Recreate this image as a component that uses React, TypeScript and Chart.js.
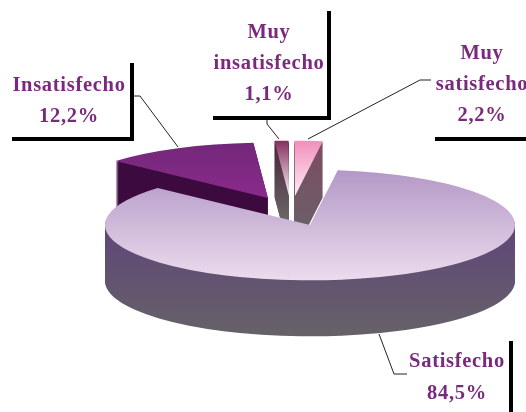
import React, { useEffect, useRef } from "react";
import { Chart, registerables } from "chart.js";

Chart.register(...registerables);

const categories = ["Insatisfecho", "Muy insatisfecho", "Muy satisfecho", "Satisfecho"];
const values = [12.2, 1.1, 2.2, 84.5];
const percentLabels = ["12,2%", "1,1%", "2,2%", "84,5%"];

// Style: explosion of each slice on screen, and gradients
const shiftX = [-42, -21, -15, 0];
const shiftY = [-27, -29, -29, 0];
const topRange = [[143, 197], [141, 195], [141, 195], [170, 281]];
const topColors = [
  ["#72287a", "#8a2a8a"],
  ["#85305f", "#f6f0f4"],
  ["#f28fbc", "#fdecf5"],
  ["#b398c6", "#ecdcee"],
];
const wallRange = [[160, 240], [141, 225], [141, 225], [225, 337]];
const wallColors = [
  ["#3d0a40", "#3b0a3c"],
  ["#4a2038", "#6c6c6a"],
  ["#7e4c62", "#6c5e68"],
  ["#5f4679", "#666268"],
];
const labelLayout = [
  { lines: ["Insatisfecho"], x: 69, y: [91, 122] },
  { lines: ["Muy", "insatisfecho"], x: 269, y: [38, 69, 100] },
  { lines: ["Muy", "satisfecho"], x: 482, y: [59, 90, 121] },
  { lines: ["Satisfecho"], x: 457, y: [367, 399] },
];
const frames = [
  [[130, 63, 4, 78], [12, 137, 122, 4]],
  [[327, 11, 4, 108], [213, 116, 118, 4]],
  [[435, 137, 91, 4]],
  [[509, 341, 4, 71]],
];
const leaders = [
  [[134, 96], [140, 96], [178, 147]],
  [[267, 119], [267, 124], [279, 139]],
  [[308, 139], [420, 80], [431, 80]],
  [[379, 334], [394, 374], [407, 374]],
];

const CX = 310;
const CY = 225;
const RADIUS = 205;
const SQUASH = 0.27;
const DEPTH = 56;

const pie3d = {
  id: "pie3d",
  beforeDatasetDraw(chart: any, args: any) {
    const ctx = chart.ctx as CanvasRenderingContext2D;
    const arcs = args.meta.data;
    arcs.forEach((el: any, i: number) => {
      const base = el.options;
      for (let k = DEPTH; k >= 0; k--) {
        ctx.save();
        const ox = CX + shiftX[i];
        const oy = CY + shiftY[i] + k;
        ctx.translate(ox, oy);
        ctx.scale(1, SQUASH);
        ctx.translate(-el.x, -el.y);
        const range = k === 0 ? topRange[i] : wallRange[i];
        const cols = k === 0 ? topColors[i] : wallColors[i];
        const toUser = (Y: number) => el.y + (Y - oy) / SQUASH;
        const g = ctx.createLinearGradient(0, toUser(range[0]), 0, toUser(range[1]));
        g.addColorStop(0, cols[0]);
        g.addColorStop(1, cols[1]);
        el.options = { ...base, backgroundColor: g, borderWidth: 0 };
        el.draw(ctx);
        ctx.restore();
      }
      el.options = base;
    });
    return false;
  },
  afterDraw(chart: any) {
    const ctx = chart.ctx as CanvasRenderingContext2D;
    ctx.save();
    ctx.strokeStyle = "#222222";
    ctx.lineWidth = 1;
    leaders.forEach((pts) => {
      ctx.beginPath();
      pts.forEach((p, i) => (i ? ctx.lineTo(p[0], p[1]) : ctx.moveTo(p[0], p[1])));
      ctx.stroke();
    });
    ctx.fillStyle = "#000000";
    frames.forEach((f) => f.forEach((r) => ctx.fillRect(r[0], r[1], r[2], r[3])));
    ctx.fillStyle = "#7a2a7d";
    ctx.font = 'bold 20.5px "Liberation Serif"';
    (ctx as any).letterSpacing = "0.7px";
    ctx.textAlign = "center";
    ctx.textBaseline = "alphabetic";
    labelLayout.forEach((l, n) =>
      [...l.lines, percentLabels[n]].forEach((t, i) => ctx.fillText(t, l.x, l.y[i]))
    );
    ctx.restore();
  },
};

export default function App() {
  const ref = useRef<HTMLCanvasElement>(null);
  useEffect(() => {
    const chart = new Chart(ref.current!, {
      type: "pie",
      data: {
        labels: categories,
        datasets: [{ data: values, backgroundColor: "#888", borderWidth: 0, clip: false } as any],
      },
      options: {
        responsive: false,
        animation: false,
        rotation: 312,
        radius: RADIUS,
        layout: { padding: 0 },
        plugins: { legend: { display: false }, tooltip: { enabled: false } },
      } as any,
      plugins: [pie3d],
    });
    return () => chart.destroy();
  }, []);
  return (
    <div style={{ position: "fixed", left: 0, top: 0, width: 526, height: 412, background: "#fff" }}>
      <canvas ref={ref} width={526} height={412} style={{ display: "block" }} />
    </div>
  );
}
